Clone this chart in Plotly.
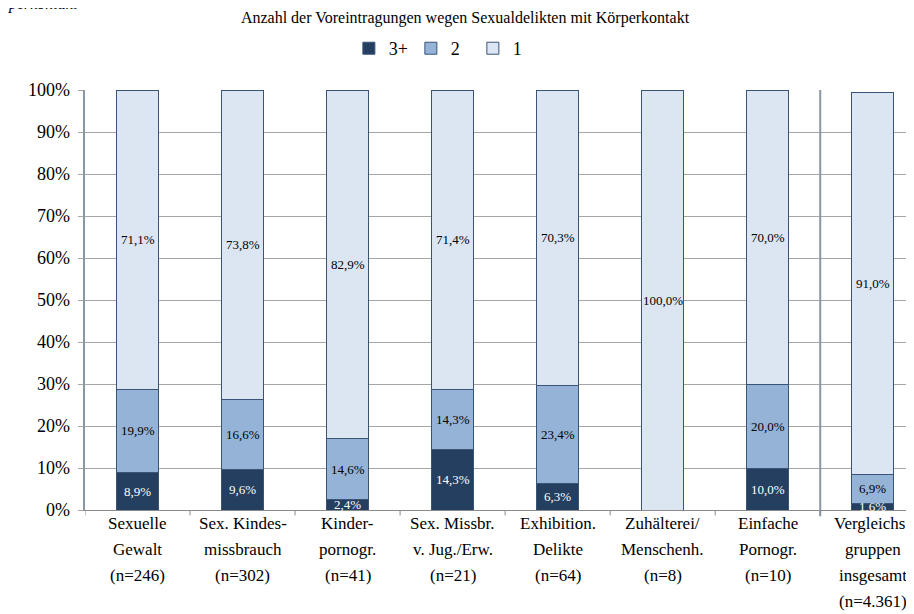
import plotly.graph_objects as go

categories = [
    "Sexuelle<br>Gewalt<br>(n=246)",
    "Sex. Kindes-<br>missbrauch<br>(n=302)",
    "Kinder-<br>pornogr.<br>(n=41)",
    "Sex. Missbr.<br>v. Jug./Erw.<br>(n=21)",
    "Exhibition.<br>Delikte<br>(n=64)",
    "Zuhälterei/<br>Menschenh.<br>(n=8)",
    "Einfache<br>Pornogr.<br>(n=10)",
    "Vergleichs-<br>gruppen<br>insgesamt<br>(n=4.361)",
]
v3plus = [8.9, 9.6, 2.4, 14.3, 6.3, 0.0, 10.0, 1.6]
v2 = [19.9, 16.6, 14.6, 14.3, 23.4, 0.0, 20.0, 6.9]
v1 = [71.1, 73.8, 82.9, 71.4, 70.3, 100.0, 70.0, 91.0]
y_ticks = [0, 10, 20, 30, 40, 50, 60, 70, 80, 90, 100]

series = [("3+", v3plus, "#243F60", "white"),
          ("2", v2, "#95B3D7", "black"),
          ("1", v1, "#DCE6F2", "black")]

FONT = "Liberation Serif"

def fmt(v):
    return f"{v:.1f}".replace(".", ",") + "%"

fig = go.Figure()
xs = list(range(len(categories)))
base = [0.0] * len(categories)
for name, vals, col, tcol in series:
    fig.add_trace(go.Bar(
        x=xs, y=[v / 100 for v in vals], name=name,
        marker=dict(color=col, line=dict(color="#3A5478", width=1)),
        width=0.4, hoverinfo="skip",
    ))
    for i, v in enumerate(vals):
        if v > 0:
            fig.add_annotation(x=i, y=(base[i] + v / 2) / 100, xref="x", yref="y",
                               text=fmt(v), showarrow=False,
                               font=dict(family=FONT, size=13, color=tcol))
        base[i] += v

# category labels, one annotation per line for wider line spacing
for i, cat in enumerate(categories):
    for k, line in enumerate(cat.split("<br>")):
        fig.add_annotation(x=i, y=0, xref="x", yref="paper", text=line,
                           showarrow=False, yanchor="middle", yshift=-(13 + k * 26.3),
                           font=dict(family=FONT, size=17, color="black"))

# y tick labels
for t in y_ticks:
    fig.add_annotation(x=0, y=t / 100, xref="paper", yref="y", text=f"{t}%",
                       showarrow=False, xanchor="right", yanchor="middle", xshift=-13,
                       font=dict(family=FONT, size=18, color="black"))

fig.add_shape(type="line", xref="x", yref="paper",
              x0=len(categories) - 1.5, x1=len(categories) - 1.5,
              y0=-0.015, y1=1, line=dict(color="#8A96A8", width=2))

fig.add_annotation(text="<i>Körperkontakt</i>", xref="paper", yref="paper",
                   x=-0.006, y=1.205, xanchor="right", yanchor="middle", showarrow=False,
                   font=dict(family=FONT, size=16, color="black"))

fig.update_layout(
    width=914, height=614,
    margin=dict(l=77, r=2, t=82, b=112, autoexpand=False),
    barmode="stack",
    bargap=0.6,
    plot_bgcolor="white", paper_bgcolor="white",
    title=dict(text="Anzahl der Voreintragungen wegen Sexualdelikten mit Körperkontakt",
               x=0.5, xanchor="center", yref="container", y=0.984, yanchor="middle",
               font=dict(family=FONT, size=16, color="black")),
    legend=dict(orientation="h", x=0.316, xanchor="left",
                yref="container", y=0.934, yanchor="middle",
                font=dict(family=FONT, size=18, color="black"), traceorder="normal",
                entrywidth=17, itemwidth=30),
    showlegend=True,
)
fig.update_xaxes(
    type="linear", range=[-0.5, 7.45],
    showticklabels=False,
    showgrid=False, ticks="", showline=True, linecolor="#8A8A8A", zeroline=False,
)
for i in range(len(categories)):
    fig.add_shape(type="line", xref="x", yref="paper", x0=i - 0.5, x1=i - 0.5,
                  y0=0, y1=-0.013, line=dict(color="#8A8A8A", width=1))
fig.update_yaxes(
    range=[0, 1], tickvals=[t / 100 for t in y_ticks], showticklabels=False,
    showgrid=True, gridcolor="#A6A6A6", gridwidth=1,
    ticks="outside", ticklen=5, tickcolor="#A6A6A6",
    showline=True, linecolor="#8A96A8", linewidth=1.5, zeroline=False,
)

fig.write_html("out.html")
